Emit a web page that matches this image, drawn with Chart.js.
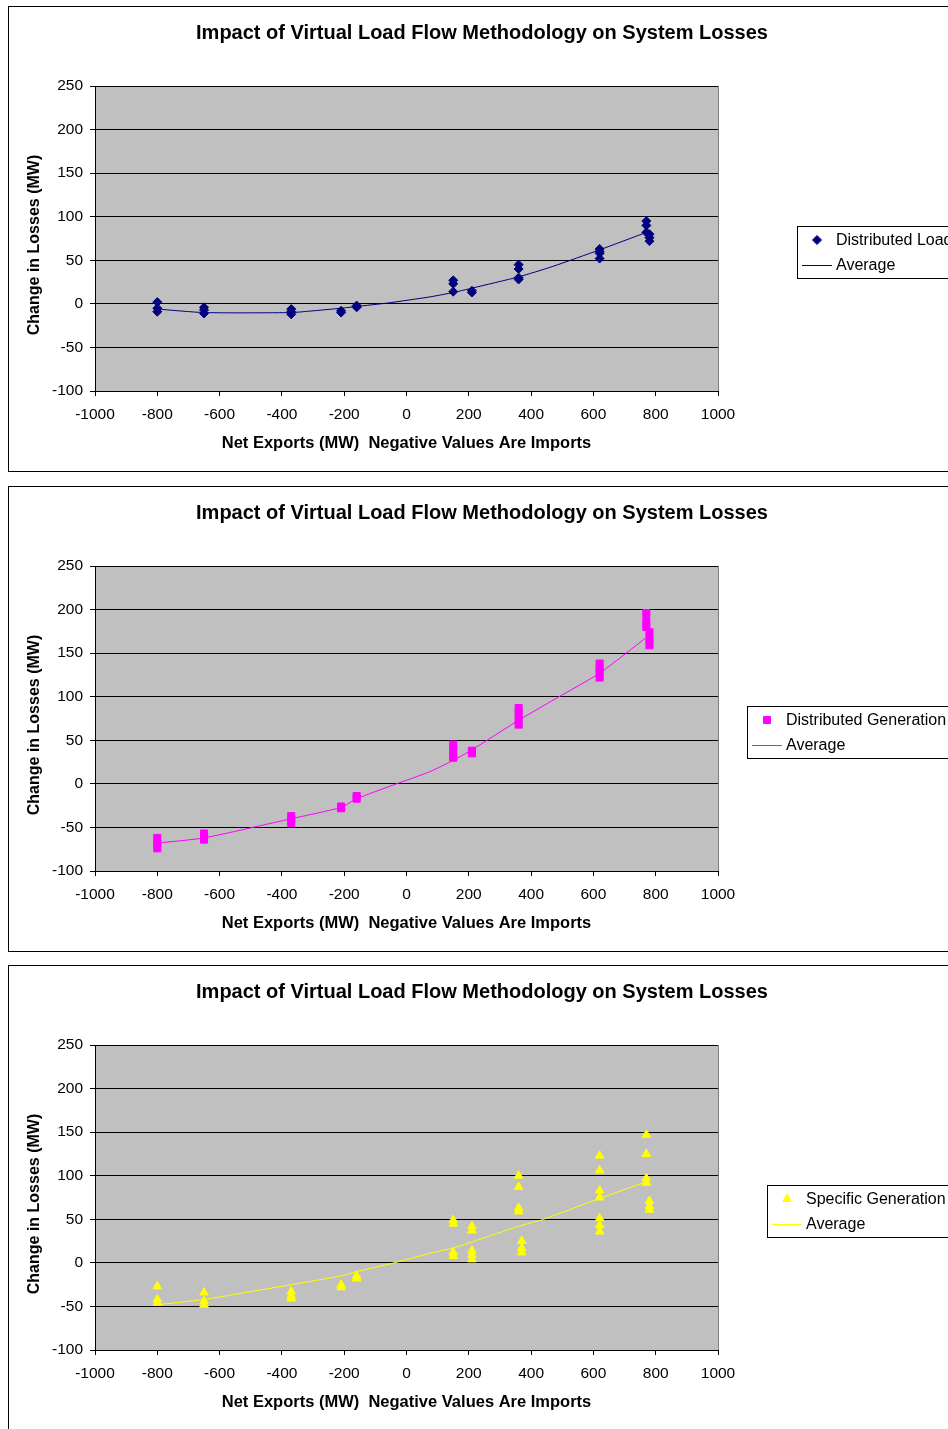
<!DOCTYPE html>
<html>
<head>
<meta charset="utf-8">
<title>Virtual Load Flow - System Losses</title>
<script src="https://cdn.jsdelivr.net/npm/chart.js@4.4.0/dist/chart.umd.min.js"></script>
<style>
    body {
        margin: 0;
        background: #fff;
        overflow: hidden;
    }

    .chart-box {
        position: absolute;
        left: 8px;
        width: 950px;
        height: 464px;
        border: 1px solid #000;
    }
</style>
</head>
<body>
<div class="chart-box" style="top: 6px;"><canvas id="loadChart" width="950" height="464"></canvas></div>
<div class="chart-box" style="top: 486px;"><canvas id="genChart" width="950" height="464"></canvas></div>
<div class="chart-box" style="top: 965px;"><canvas id="specChart" width="950" height="464"></canvas></div>

<script>
let chartTitle = 'Impact of Virtual Load Flow Methodology on System Losses';
let xTitle = 'Net Exports (MW)  Negative Values Are Imports';
let yTitle = 'Change in Losses (MW)';

let xTicks = [-1000, -800, -600, -400, -200, 0, 200, 400, 600, 800, 1000];
let yTicks = [-100, -50, 0, 50, 100, 150, 200, 250];

// distributed load runs
let loadX = [-800, -800, -800, -650, -650, -650, -370, -370, -370, -210, -210, -160, -160,
    150, 150, 150, 210, 210, 360, 360, 360, 360, 620, 620, 620, 620, 770, 770, 770, 780, 780, 780];
let loadY = [2, -5, -9, -4, -7, -11, -6, -9, -12, -8, -10, -2, -4,
    27, 23, 14, 15, 13, 45, 40, 28, 30, 63, 60, 58, 52, 95, 90, 82, 80, 76, 72];
let loadAvgX = [-800, -650, -370, -300, -210, -160, -60, 75, 150, 210, 360, 470, 620, 770];
let loadAvgY = [-6, -10, -10, -8, -5, -3, 1, 8, 13, 18, 31, 43, 62, 82];

// distributed generation runs
let genX = [-800, -800, -800, -650, -650, -650, -370, -370, -370, -210, -210, -160, -160,
    150, 150, 150, 150, 210, 210, 360, 360, 360, 360, 620, 620, 620, 620, 770, 770, 770, 780, 780, 780];
let genY = [-62, -68, -74, -57, -61, -64, -37, -41, -45, -26, -28, -14, -17,
    45, 40, 32, 30, 38, 35, 87, 80, 73, 68, 138, 132, 128, 122, 196, 187, 180, 174, 166, 159];
let genAvgX = [-800, -650, -370, -210, -160, -40, 75, 150, 210, 360, 485, 620, 770];
let genAvgY = [-68, -62, -40, -27, -17, -1, 14, 27, 39, 73, 99, 127, 168];

// specific generation runs
let specX = [-800, -800, -800, -650, -650, -650, -370, -370, -370, -210, -210, -160, -160,
    150, 150, 150, 150, 210, 210, 210, 210, 210, 360, 360, 360, 360, 370, 370, 370,
    620, 620, 620, 620, 620, 620, 620, 770, 770, 770, 770, 780, 780, 780];
let specY = [-27, -42, -46, -34, -44, -48, -33, -38, -41, -25, -28, -15, -18,
    49, 45, 12, 8, 42, 37, 14, 9, 4, 100, 87, 63, 59, 25, 17, 12,
    123, 106, 83, 75, 51, 43, 36, 147, 125, 97, 92, 71, 65, 61];
let specAvgX = [-800, -650, -370, -210, -160, -40, 75, 150, 210, 360, 440, 620, 770];
let specAvgY = [-48, -42, -25, -15, -10, 0, 11, 17, 24, 42, 50, 74, 93];

const FONT = '"Liberation Sans", Arial, sans-serif';
Chart.defaults.font.family = FONT;
Chart.defaults.color = '#000';


// grey plot area with a thin darker frame
const plotBackground = {
    id: 'plotBackground',
    beforeDraw(chart) {
        let a = chart.chartArea;
        let ctx = chart.ctx;
        ctx.save();
        ctx.fillStyle = '#c0c0c0';
        ctx.fillRect(a.left, a.top, a.right - a.left, a.bottom - a.top);
        ctx.strokeStyle = '#808080';
        ctx.lineWidth = 1;
        ctx.strokeRect(Math.round(a.left) + 0.5, Math.round(a.top) + 0.5, a.right - a.left, a.bottom - a.top);
        ctx.restore();
    }
};


// main title is centred on the whole box, the y title on the box height
const boxTitles = {
    id: 'boxTitles',
    afterDraw(chart) {
        let ctx = chart.ctx;
        ctx.save();
        ctx.fillStyle = '#000';
        ctx.textAlign = 'center';
        ctx.textBaseline = 'middle';
        ctx.font = 'bold 20px ' + FONT;
        ctx.fillText(chartTitle, 473, 26);

        ctx.font = 'bold 16px ' + FONT;
        ctx.translate(26, 238);
        ctx.rotate(-Math.PI / 2);
        ctx.fillText(yTitle, 0, 0);
        ctx.restore();
    }
};


function boxLegend(left, color, pointStyle, radius, label) {
    return {
        id: 'boxLegend',
        afterDraw(chart) {
            let ctx = chart.ctx;
            let top = 219;
            ctx.save();
            ctx.fillStyle = '#fff';
            ctx.fillRect(left, top, 230, 52);
            ctx.strokeStyle = '#000';
            ctx.lineWidth = 1;
            ctx.strokeRect(left + 0.5, top + 0.5, 230, 52);

            ctx.fillStyle = color;
            ctx.strokeStyle = color;
            Chart.helpers.drawPoint(ctx, { pointStyle: pointStyle, radius: radius, rotation: 0, borderWidth: 1 }, left + 20, top + 14);

            ctx.beginPath();
            ctx.moveTo(left + 5, top + 39.5);
            ctx.lineTo(left + 35, top + 39.5);
            ctx.stroke();

            ctx.fillStyle = '#000';
            ctx.font = '16px ' + FONT;
            ctx.textBaseline = 'middle';
            ctx.fillText(label, left + 39, top + 15);
            ctx.fillText('Average', left + 39, top + 40);
            ctx.restore();
        }
    };
}


function drawLossChart(canvasId, xs, ys, avgX, avgY, color, pointStyle, radius, label, legendLeft) {
    let points = xs.map((x, i) => ({ x: x, y: ys[i] }));
    let average = avgX.map((x, i) => ({ x: x, y: avgY[i] }));

    new Chart(document.getElementById(canvasId), {
        type: 'scatter',
        data: {
            datasets: [{
                label: label,
                data: points,
                pointStyle: pointStyle,
                pointRadius: radius,
                backgroundColor: color,
                borderColor: color,
                borderWidth: 1
            }, {
                label: 'Average',
                data: average,
                showLine: true,
                pointRadius: 0,
                borderColor: color,
                borderWidth: 1,
                tension: 0.2
            }]
        },
        options: {
            responsive: false,
            animation: false,
            events: [],
            layout: {
                padding: { left: 0, right: 241, top: 79, bottom: 0 }
            },
            scales: {
                x: {
                    type: 'linear',
                    min: -1000,
                    max: 1000,
                    afterBuildTicks: (scale) => { scale.ticks = xTicks.map(v => ({ value: v })); },
                    afterFit: (scale) => { scale.height = 80; },
                    ticks: {
                        font: { size: 15.5 },
                        padding: 9,
                        maxRotation: 0,
                        autoSkip: false,
                        callback: (v) => String(v)
                    },
                    grid: {
                        drawOnChartArea: false,
                        drawTicks: true,
                        tickLength: 5,
                        color: '#000'
                    },
                    border: { color: '#000' },
                    title: {
                        display: true,
                        text: xTitle,
                        font: { size: 16.5, weight: 'bold' },
                        padding: { top: 0, bottom: 18 }
                    }
                },
                y: {
                    min: -100,
                    max: 250,
                    afterBuildTicks: (scale) => { scale.ticks = yTicks.map(v => ({ value: v })); },
                    afterFit: (scale) => { scale.width = 86; },
                    ticks: {
                        font: { size: 15.5 },
                        padding: 7,
                        callback: (v) => String(v)
                    },
                    grid: {
                        color: '#000',
                        tickLength: 5
                    },
                    border: { color: '#000' }
                }
            },
            plugins: {
                legend: { display: false },
                tooltip: { enabled: false },
                title: { display: false }
            }
        },
        plugins: [plotBackground, boxTitles, boxLegend(legendLeft, color, pointStyle, radius, label)]
    });
}


drawLossChart('loadChart', loadX, loadY, loadAvgX, loadAvgY, '#000080', 'rectRot', 4.5, 'Distributed Load', 788);
drawLossChart('genChart', genX, genY, genAvgX, genAvgY, '#ff00ff', 'rect', 5, 'Distributed Generation', 738);
drawLossChart('specChart', specX, specY, specAvgX, specAvgY, '#ffff00', 'triangle', 5, 'Specific Generation', 758);
</script>
</body>
</html>
